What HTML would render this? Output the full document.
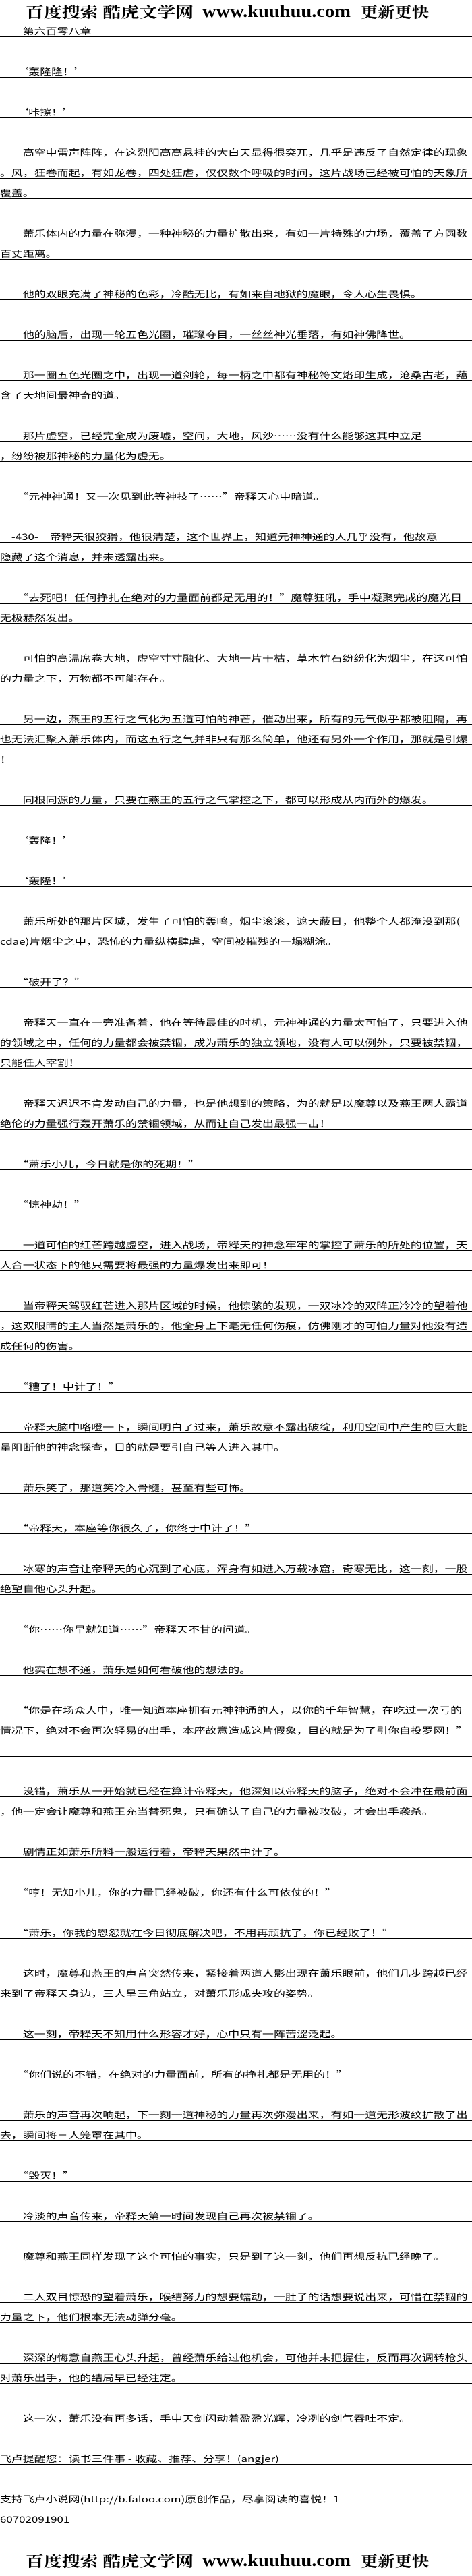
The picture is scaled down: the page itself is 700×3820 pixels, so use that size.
<!DOCTYPE html>
<html><head><meta charset="utf-8">
<style>
html,body{margin:0;padding:0;background:#fff;}
body{width:700px;height:3820px;position:relative;overflow:hidden;}
#wrap{position:absolute;left:0;top:25px;width:538px;transform:scaleX(1.3011);transform-origin:0 0;}
.a,.e{height:30px;box-sizing:border-box;}
.a{border-bottom:1px solid #000;font-family:"Noto Sans CJK SC","WenQuanYi Zen Hei",sans-serif;font-size:13px;line-height:14px;padding-top:14px;white-space:nowrap;color:#000;}
.logo{position:absolute;left:0;width:700px;height:34px;}
</style></head><body>
<svg class="logo" style="top:0" width="700" height="34" viewBox="0 0 700 34">
<text x="38" y="26" textLength="249" lengthAdjust="spacingAndGlyphs" font-family="Noto Serif CJK SC, serif" font-weight="bold" font-size="22">百度搜索 酷虎文学网</text>
<text x="300" y="25" textLength="220" lengthAdjust="spacingAndGlyphs" font-family="Liberation Serif, serif" font-weight="bold" font-size="25">www.kuuhuu.com</text>
<text x="535" y="26" textLength="101" lengthAdjust="spacingAndGlyphs" font-family="Noto Serif CJK SC, serif" font-weight="bold" font-size="22">更新更快</text>
</svg>
<div id="wrap">
<div class="a">　　第六百零八章</div>
<div class="e"></div>
<div class="a">　　‘轰隆隆！’</div>
<div class="e"></div>
<div class="a">　　‘咔擦！’</div>
<div class="e"></div>
<div class="a">　　高空中雷声阵阵，在这烈阳高高悬挂的大白天显得很突兀，几乎是违反了自然定律的现象</div>
<div class="a">。风，狂卷而起，有如龙卷，四处狂虐，仅仅数个呼吸的时间，这片战场已经被可怕的天象所</div>
<div class="a">覆盖。</div>
<div class="e"></div>
<div class="a">　　萧乐体内的力量在弥漫，一种神秘的力量扩散出来，有如一片特殊的力场，覆盖了方圆数</div>
<div class="a">百丈距离。</div>
<div class="e"></div>
<div class="a">　　他的双眼充满了神秘的色彩，冷酷无比，有如来自地狱的魔眼，令人心生畏惧。</div>
<div class="e"></div>
<div class="a">　　他的脑后，出现一轮五色光圈，璀璨夺目，一丝丝神光垂落，有如神佛降世。</div>
<div class="e"></div>
<div class="a">　　那一圈五色光圈之中，出现一道剑轮，每一柄之中都有神秘符文烙印生成，沧桑古老，蕴</div>
<div class="a">含了天地间最神奇的道。</div>
<div class="e"></div>
<div class="a">　　那片虚空，已经完全成为废墟，空间，大地，风沙……没有什么能够这其中立足</div>
<div class="a">，纷纷被那神秘的力量化为虚无。</div>
<div class="e"></div>
<div class="a">　　“元神神通！又一次见到此等神技了……”帝释天心中暗道。</div>
<div class="e"></div>
<div class="a">　-430-　帝释天很狡猾，他很清楚，这个世界上，知道元神神通的人几乎没有，他故意</div>
<div class="a">隐藏了这个消息，并未透露出来。</div>
<div class="e"></div>
<div class="a">　　“去死吧！任何挣扎在绝对的力量面前都是无用的！”魔尊狂吼，手中凝聚完成的魔光日</div>
<div class="a">无极赫然发出。</div>
<div class="e"></div>
<div class="a">　　可怕的高温席卷大地，虚空寸寸融化、大地一片干枯，草木竹石纷纷化为烟尘，在这可怕</div>
<div class="a">的力量之下，万物都不可能存在。</div>
<div class="e"></div>
<div class="a">　　另一边，燕王的五行之气化为五道可怕的神芒，催动出来，所有的元气似乎都被阻隔，再</div>
<div class="a">也无法汇聚入萧乐体内，而这五行之气并非只有那么简单，他还有另外一个作用，那就是引爆</div>
<div class="a">！</div>
<div class="e"></div>
<div class="a">　　同根同源的力量，只要在燕王的五行之气掌控之下，都可以形成从内而外的爆发。</div>
<div class="e"></div>
<div class="a">　　‘轰隆！’</div>
<div class="e"></div>
<div class="a">　　‘轰隆！’</div>
<div class="e"></div>
<div class="a">　　萧乐所处的那片区域，发生了可怕的轰鸣，烟尘滚滚，遮天蔽日，他整个人都淹没到那(</div>
<div class="a">cdae)片烟尘之中，恐怖的力量纵横肆虐，空间被摧残的一塌糊涂。</div>
<div class="e"></div>
<div class="a">　　“破开了？”</div>
<div class="e"></div>
<div class="a">　　帝释天一直在一旁准备着，他在等待最佳的时机，元神神通的力量太可怕了，只要进入他</div>
<div class="a">的领域之中，任何的力量都会被禁锢，成为萧乐的独立领地，没有人可以例外，只要被禁锢，</div>
<div class="a">只能任人宰割！</div>
<div class="e"></div>
<div class="a">　　帝释天迟迟不肯发动自己的力量，也是他想到的策略，为的就是以魔尊以及燕王两人霸道</div>
<div class="a">绝伦的力量强行轰开萧乐的禁锢领域，从而让自己发出最强一击！</div>
<div class="e"></div>
<div class="a">　　“萧乐小儿，今日就是你的死期！”</div>
<div class="e"></div>
<div class="a">　　“惊神劫！”</div>
<div class="e"></div>
<div class="a">　　一道可怕的红芒跨越虚空，进入战场，帝释天的神念牢牢的掌控了萧乐的所处的位置，天</div>
<div class="a">人合一状态下的他只需要将最强的力量爆发出来即可！</div>
<div class="e"></div>
<div class="a">　　当帝释天驾驭红芒进入那片区域的时候，他惊骇的发现，一双冰冷的双眸正冷冷的望着他</div>
<div class="a">，这双眼睛的主人当然是萧乐的，他全身上下毫无任何伤痕，仿佛刚才的可怕力量对他没有造</div>
<div class="a">成任何的伤害。</div>
<div class="e"></div>
<div class="a">　　“糟了！中计了！”</div>
<div class="e"></div>
<div class="a">　　帝释天脑中咯噔一下，瞬间明白了过来，萧乐故意不露出破绽，利用空间中产生的巨大能</div>
<div class="a">量阻断他的神念探查，目的就是要引自己等人进入其中。</div>
<div class="e"></div>
<div class="a">　　萧乐笑了，那道笑冷入骨髓，甚至有些可怖。</div>
<div class="e"></div>
<div class="a">　　“帝释天，本座等你很久了，你终于中计了！”</div>
<div class="e"></div>
<div class="a">　　冰寒的声音让帝释天的心沉到了心底，浑身有如进入万载冰窟，奇寒无比，这一刻，一股</div>
<div class="a">绝望自他心头升起。</div>
<div class="e"></div>
<div class="a">　　“你……你早就知道……”帝释天不甘的问道。</div>
<div class="e"></div>
<div class="a">　　他实在想不通，萧乐是如何看破他的想法的。</div>
<div class="e"></div>
<div class="a">　　“你是在场众人中，唯一知道本座拥有元神神通的人，以你的千年智慧，在吃过一次亏的</div>
<div class="a">情况下，绝对不会再次轻易的出手，本座故意造成这片假象，目的就是为了引你自投罗网！”</div>
<div class="a"></div>
<div class="e"></div>
<div class="a">　　没错，萧乐从一开始就已经在算计帝释天，他深知以帝释天的脑子，绝对不会冲在最前面</div>
<div class="a">，他一定会让魔尊和燕王充当替死鬼，只有确认了自己的力量被攻破，才会出手袭杀。</div>
<div class="e"></div>
<div class="a">　　剧情正如萧乐所料一般运行着，帝释天果然中计了。</div>
<div class="e"></div>
<div class="a">　　“哼！无知小儿，你的力量已经被破，你还有什么可依仗的！”</div>
<div class="e"></div>
<div class="a">　　“萧乐，你我的恩怨就在今日彻底解决吧，不用再顽抗了，你已经败了！”</div>
<div class="e"></div>
<div class="a">　　这时，魔尊和燕王的声音突然传来，紧接着两道人影出现在萧乐眼前，他们几步跨越已经</div>
<div class="a">来到了帝释天身边，三人呈三角站立，对萧乐形成夹攻的姿势。</div>
<div class="e"></div>
<div class="a">　　这一刻，帝释天不知用什么形容才好，心中只有一阵苦涩泛起。</div>
<div class="e"></div>
<div class="a">　　“你们说的不错，在绝对的力量面前，所有的挣扎都是无用的！”</div>
<div class="e"></div>
<div class="a">　　萧乐的声音再次响起，下一刻一道神秘的力量再次弥漫出来，有如一道无形波纹扩散了出</div>
<div class="a">去，瞬间将三人笼罩在其中。</div>
<div class="e"></div>
<div class="a">　　“毁灭！”</div>
<div class="e"></div>
<div class="a">　　冷淡的声音传来，帝释天第一时间发现自己再次被禁锢了。</div>
<div class="e"></div>
<div class="a">　　魔尊和燕王同样发现了这个可怕的事实，只是到了这一刻，他们再想反抗已经晚了。</div>
<div class="e"></div>
<div class="a">　　二人双目惊恐的望着萧乐，喉结努力的想要蠕动，一肚子的话想要说出来，可惜在禁锢的</div>
<div class="a">力量之下，他们根本无法动弹分毫。</div>
<div class="e"></div>
<div class="a">　　深深的悔意自燕王心头升起，曾经萧乐给过他机会，可他并未把握住，反而再次调转枪头</div>
<div class="a">对萧乐出手，他的结局早已经注定。</div>
<div class="e"></div>
<div class="a">　　这一次，萧乐没有再多话，手中天剑闪动着盈盈光辉，冷冽的剑气吞吐不定。</div>
<div class="e"></div>
<div class="a">飞卢提醒您：读书三件事 - 收藏、推荐、分享！(angjer)</div>
<div class="e"></div>
<div class="a">支持飞卢小说网(http://b.faloo.com)原创作品，尽享阅读的喜悦！1</div>
<div class="a">60702091901</div>
</div>
<svg class="logo" style="top:3780px" width="700" height="34" viewBox="0 0 700 34">
<text x="38" y="26" textLength="249" lengthAdjust="spacingAndGlyphs" font-family="Noto Serif CJK SC, serif" font-weight="bold" font-size="22">百度搜索 酷虎文学网</text>
<text x="300" y="25" textLength="220" lengthAdjust="spacingAndGlyphs" font-family="Liberation Serif, serif" font-weight="bold" font-size="25">www.kuuhuu.com</text>
<text x="535" y="26" textLength="101" lengthAdjust="spacingAndGlyphs" font-family="Noto Serif CJK SC, serif" font-weight="bold" font-size="22">更新更快</text>
</svg>
</body></html>
